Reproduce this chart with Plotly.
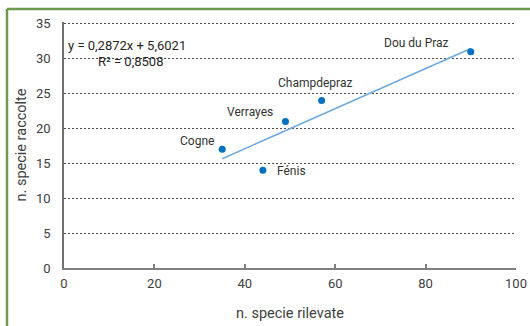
import numpy as np
import plotly.graph_objects as go

sites = ["Cogne", "Fénis", "Verrayes", "Champdepraz", "Dou du Praz"]
rilevate = [35, 44, 49, 57, 90]
raccolte = [17, 14, 21, 24, 31]
x_ticks = [0, 20, 40, 60, 80, 100]
y_ticks = [0, 5, 10, 15, 20, 25, 30, 35]

slope, intercept = np.polyfit(rilevate, raccolte, 1)
pred = np.polyval([slope, intercept], rilevate)
r2 = 1 - np.sum((np.array(raccolte) - pred) ** 2) / np.sum((np.array(raccolte) - np.mean(raccolte)) ** 2)

FONT = "Roboto, Liberation Sans, sans-serif"
TXT = "#404040"

T, B = 22, 58
PH = 326 - T - B  # plot height in px
YMAX = 35.25

def py(pix):  # pixel y in page -> paper fraction
    return (326 - B - pix) / PH

fig = go.Figure()
xl = [min(rilevate), max(rilevate)]
fig.add_trace(go.Scatter(x=xl, y=[slope * v + intercept for v in xl], mode="lines",
                         line=dict(color="#6FA8DC", width=1.5), hoverinfo="skip"))
fig.add_trace(go.Scatter(x=rilevate, y=raccolte, mode="markers",
                         marker=dict(color="#0070C0", size=7)))

# label placement (anchor, xshift, yshift)
place = [("right", -6, 8), ("left", 12, -1), ("right", -10, 9), ("center", -7, 18), ("right", -20, 9)]
for s, xv, yv, (anc, dx, dy) in zip(sites, rilevate, raccolte, place):
    fig.add_annotation(x=xv, y=yv, text=s, showarrow=False, xanchor=anc, yanchor="middle",
                       xshift=dx, yshift=dy, font=dict(family=FONT, size=12, color="#333333"))

eq = "y = " + f"{slope:.4f}".replace(".", ",") + "x + " + f"{intercept:.4f}".replace(".", ",")
r2t = "R² = " + f"{r2:.4f}".replace(".", ",")
fig.add_annotation(xref="paper", yref="paper", x=(127 - 64) / 452, y=py(46), text=eq,
                   showarrow=False, xanchor="center", yanchor="middle",
                   font=dict(family=FONT, size=13, color="#262626"))
fig.add_annotation(xref="paper", yref="paper", x=(130 - 64) / 452, y=py(61), text=r2t,
                   showarrow=False, xanchor="center", yanchor="middle",
                   font=dict(family=FONT, size=13, color="#262626"))

fig.update_layout(
    width=530, height=326, margin=dict(l=64, r=14, t=T, b=B, autoexpand=False),
    paper_bgcolor="white", plot_bgcolor="white", showlegend=False,
    font=dict(family=FONT, size=13, color=TXT),
    shapes=[
        dict(type="line", xref="paper", yref="paper", x0=-57 / 452, x1=466 / 452 + 0.05,
             y0=py(9), y1=py(9), line=dict(color="#6E9A4E", width=2.5)),
        dict(type="line", xref="paper", yref="paper", x0=-57 / 452, x1=-57 / 452,
             y0=py(9), y1=py(340), line=dict(color="#6E9A4E", width=2.5)),
    ],
)
fig.update_xaxes(range=[0, 100], tickvals=x_ticks, showgrid=False, zeroline=False,
                 showline=True, linecolor="#7F7F7F", linewidth=1.5,
                 ticks="inside", ticklen=4, tickcolor="#7F7F7F", tickwidth=1.5,
                 ticklabelstandoff=3, tickfont=dict(size=13, color=TXT),
                 title=dict(text="n. specie rilevate", standoff=18, font=dict(size=14.5, color=TXT)))
fig.update_yaxes(range=[0, YMAX], tickvals=y_ticks, showgrid=True, gridcolor="#4D4D4D", gridwidth=1,
                 griddash="2px,2px", zeroline=False,
                 showline=True, linecolor="#6F6F6F", linewidth=1.5, ticks="",
                 ticklabelstandoff=9, tickfont=dict(size=13, color=TXT),
                 title=dict(text="n. specie raccolte", standoff=6, font=dict(size=14.5, color=TXT)))

fig.write_html("out.html")
